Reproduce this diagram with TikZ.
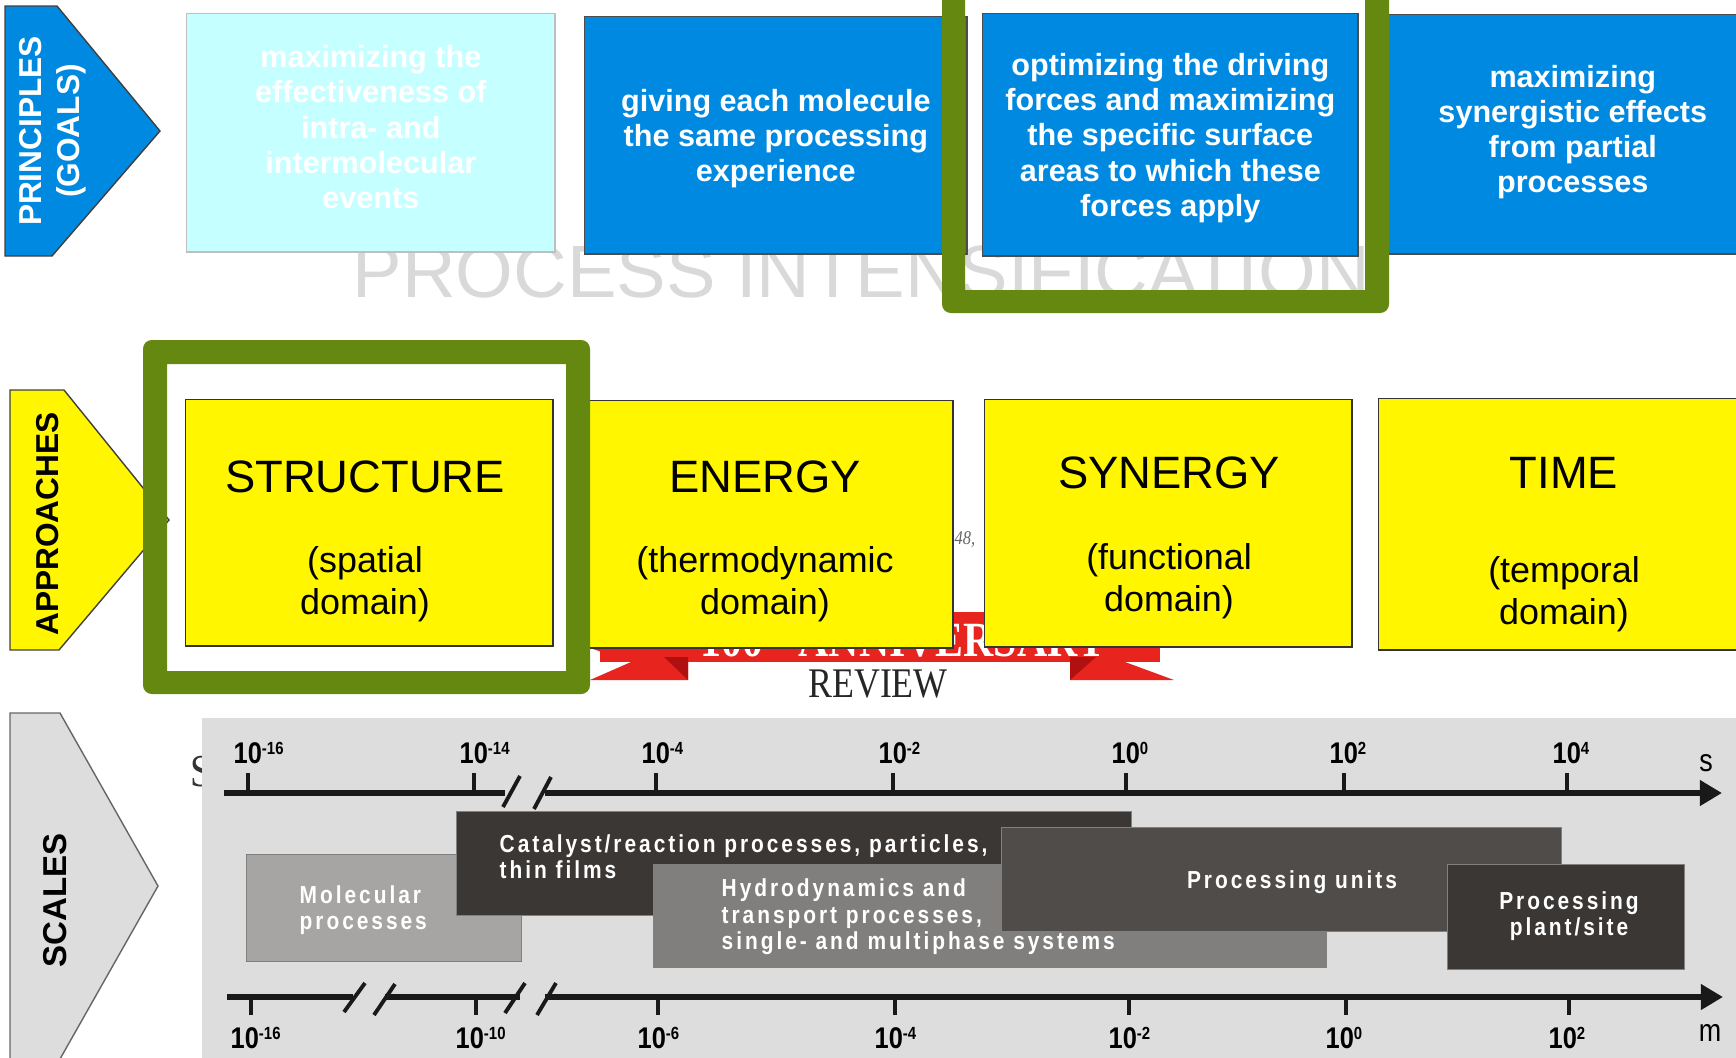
\documentclass[tikz,border=0pt]{standalone}
\usepackage{fontspec}
\setmainfont{Liberation Sans}
\newfontfamily\narrowfont{Liberation Sans}[FakeStretch=0.85,LetterSpace=12]
\newfontfamily\tickfont{Liberation Sans}[FakeStretch=0.85]
\newfontfamily\seriffont{Liberation Serif}[FakeStretch=0.85]
\usepackage{tikz}
\usetikzlibrary{arrows.meta}

\definecolor{goalblue}{RGB}{0,137,224}
\definecolor{goalcyan}{RGB}{197,255,255}
\definecolor{appyellow}{RGB}{255,246,0}
\definecolor{framegreen}{RGB}{101,136,17}
\definecolor{panelgray}{RGB}{221,221,221}
\definecolor{markgray}{RGB}{217,217,217}
\definecolor{ribbonred}{RGB}{232,36,30}
\definecolor{ribbondark}{RGB}{176,16,16}
\definecolor{molgray}{RGB}{166,165,164}
\definecolor{hydgray}{RGB}{128,127,125}
\definecolor{unitgray}{RGB}{79,76,73}
\definecolor{catgray}{RGB}{58,55,53}

% small raised exponent on the axis labels
\newcommand{\expo}[1]{\raisebox{2.3pt}{\fontsize{5}{5}\selectfont #1}}

\begin{document}
\begin{tikzpicture}[x=0.01cm, y=-0.01cm,
    goal/.style={draw=black!70, line width=0.4pt, fill=goalblue,
      anchor=north west, inner sep=0pt},
    goaltext/.style={text=white, align=center, inner sep=0pt,
      font=\bfseries\fontsize{8.7}{10}\selectfont},
    approach/.style={draw=black!80, line width=0.4pt, fill=appyellow,
      anchor=north west, inner sep=0pt},
    apptitle/.style={font=\fontsize{12.9}{14}\selectfont, inner sep=0pt},
    appsub/.style={align=center, inner sep=0pt, font=\fontsize{10.2}{12}\selectfont},
    sidelabel/.style={rotate=90, align=center, inner sep=0pt,
      font=\bfseries\fontsize{9}{10.8}\selectfont},
    sidearrow/.style={draw=black!75, line width=0.4pt},
    scalebox/.style={draw=black!50, line width=0.3pt, anchor=north west, inner sep=0pt},
    scaletext/.style={text=white, align=left, inner sep=0pt,
      font=\narrowfont\bfseries\fontsize{7}{7.5}\selectfont},
    axisline/.style={line width=1.7pt, black!90},
    breakmark/.style={line width=1.1pt, black!90},
    tick/.style={line width=1.1pt, black!90},
    ticklabel/.style={anchor=base west, inner sep=0pt,
      font=\tickfont\bfseries\fontsize{8.5}{9}\selectfont}]

  \useasboundingbox (0,0) rectangle (1736,1057);

  % grey lettering behind the goals
  \node[anchor=base west, inner sep=0pt, text=markgray,
    font=\fontsize{21.1}{22}\selectfont] (mark) at (352,297) {PROCESS INTENSIFICATION};

  % principles (goals)
  \node[goal, fill=goalcyan, draw=black!25, minimum width=3.68cm, minimum height=2.38cm] (goal1) at (186,13) {};
  \node[goal, minimum width=3.82cm, minimum height=2.37cm] (goal2) at (584,16) {};
  \node[goal, minimum width=3.75cm, minimum height=2.42cm] (goal3) at (982,13) {};
  \node[goal, minimum width=3.84cm, minimum height=2.39cm] (goal4) at (1380,14) {};

  \node[goaltext] (goal1-t) at ([yshift=1.6pt]goal1.center)
    {maximizing the\\effectiveness of\\intra- and\\intermolecular\\events};
  \node[goaltext] (goal2-t) at ([yshift=-0.9pt]goal2.center)
    {giving each molecule\\the same processing\\experience};
  \node[goaltext] (goal3-t) at ([yshift=-0.9pt]goal3.center)
    {optimizing the driving\\forces and maximizing\\the specific surface\\areas to which these\\forces apply};
  \node[goaltext] (goal4-t) at ([yshift=0.6pt]goal4.center)
    {maximizing\\synergistic effects\\from partial\\processes};

  % frame round the third goal
  \fill[framegreen, even odd rule, rounded corners=2.5pt]
    (942,-30) rectangle (1389,313) [sharp corners] (965,-30) rectangle (1365,290);

  % side arrow: principles
  \draw[sidearrow, fill=goalblue] (5,6) -- (57,6) -- (160,131) -- (52,256) -- (5,256) -- cycle;
  \node[sidelabel, text=white] (principles) at (53,131) {PRINCIPLES\\(GOALS)};

  % ribbon behind the approaches
  \fill[ribbonred] (600,612) rectangle (1160,662);
  \fill[ribbonred] (590,648) -- (688,648) -- (688,680) -- (590,680) -- (631,662) -- cycle;
  \fill[ribbondark] (664,657) -- (688,657) -- (688,680) -- cycle;
  \fill[ribbonred] (1070,648) -- (1150,648) -- (1125,662) -- (1174,680) -- (1070,680) -- cycle;
  \fill[ribbondark] (1070,657) -- (1096,657) -- (1070,680) -- cycle;
  \node[anchor=base west, inner sep=0pt, text=white,
    font=\seriffont\bfseries\fontsize{14}{15}\selectfont] (anniv) at (700,656)
    {100\hspace{10pt}ANNIVERSARY};
  \node[inner sep=0pt, text=black!85, font=\seriffont\fontsize{12}{13}\selectfont]
    (review) at (878,684) {REVIEW};
  \node[inner sep=0pt, text=black!60, font=\seriffont\itshape\fontsize{5.5}{6}\selectfont]
    (page) at (965,540) {48,};

  % approaches
  \node[approach, minimum width=3.77cm, minimum height=2.47cm] (energy) at (575,400) {};
  \node[approach, minimum width=3.67cm, minimum height=2.47cm] (synergy) at (984,399) {};
  \node[approach, minimum width=3.7cm, minimum height=2.51cm] (time) at (1378,398) {};

  \draw[sidearrow, fill=appyellow] (10,390) -- (64,390) -- (169,520) -- (59,650) -- (10,650) -- cycle;
  \node[sidelabel] (approaches) at (48,524) {APPROACHES};

  % frame round the first approach
  \fill[framegreen, even odd rule, rounded corners=2.5pt]
    (143,340) rectangle (590,694) [sharp corners] (167,364) rectangle (566,671);
  \node[approach, minimum width=3.67cm, minimum height=2.46cm] (structure) at (185,399) {};

  \node[apptitle] (structure-t) at (365,477) {STRUCTURE};
  \node[appsub] (structure-s) at (365,584) {(spatial\\domain)};
  \node[apptitle] (energy-t) at (765,477) {ENERGY};
  \node[appsub] (energy-s) at (765,584) {(thermodynamic\\domain)};
  \node[apptitle] (synergy-t) at (1169,473) {SYNERGY};
  \node[appsub] (synergy-s) at (1169,581) {(functional\\domain)};
  \node[apptitle] (time-t) at (1564,473) {TIME};
  \node[appsub] (time-s) at (1564,594) {(temporal\\domain)};

  % scales
  \node[inner sep=0pt, text=black!80, font=\seriffont\fontsize{13}{14}\selectfont]
    (sfrag) at (201,772) {S};
  \fill[panelgray] (202,718) rectangle (1745,1065);
  \draw[sidearrow, draw=black!60, fill=panelgray]
    (10,713) -- (60,713) -- (158,886) -- (60,1059) -- (10,1059) -- cycle;
  \node[sidelabel, font=\bfseries\fontsize{9.4}{10}\selectfont] (scales) at (55,900) {SCALES};

  \node[scalebox, fill=molgray, minimum width=2.75cm, minimum height=1.07cm] (molecular) at (246,854) {};
  \node[scaletext, anchor=west] (molecular-t) at (299,910) {Molecular\\processes};
  \node[scalebox, fill=catgray, minimum width=6.75cm, minimum height=1.04cm] (catalyst) at (456,811) {};
  \node[scaletext, anchor=west] (catalyst-t) at (499,857) {Catalyst/reaction processes, particles,\\thin films};
  \node[scalebox, fill=hydgray, minimum width=6.73cm, minimum height=1.03cm] (hydro) at (653,864) {};
  \node[scaletext, anchor=west] (hydro-t) at (721,917) {Hydrodynamics and\\transport processes,\\single- and multiphase systems};
  \node[scalebox, fill=unitgray, minimum width=5.6cm, minimum height=1.04cm] (units) at (1001,827) {};
  \node[scaletext] (units-t) at (1292,882) {Processing units};
  \node[scalebox, fill=catgray, minimum width=2.37cm, minimum height=1.05cm] (plant) at (1447,864) {};
  \node[scaletext, align=center] (plant-t) at (1569,916) {Processing\\plant/site};

  % time axis
  \coordinate (t-start) at (224,793);
  \coordinate (t-end) at (1722,793);
  \draw[axisline] (t-start) -- (505,793);
  \draw[axisline, -{Triangle[length=6.3pt, width=7pt]}] (545,793) -- (t-end);
  \draw[breakmark] (503,807) -- (520,776);
  \draw[breakmark] (534,809) -- (551,777);
  \foreach \x/\e in {248/-16, 474/-14, 656/-4, 893/-2, 1126/0, 1344/2, 1567/4} {
    \draw[tick] (\x,773) -- (\x,793);
    \node[ticklabel] at (\x-15,763) {10\expo{\e}};
  }
  \node[inner sep=0pt, font=\tickfont\fontsize{9}{10}\selectfont] (t-unit) at (1706,763) {s};

  % length axis
  \coordinate (m-start) at (227,997);
  \coordinate (m-end) at (1723,997);
  \draw[axisline] (m-start) -- (353,997);
  \draw[axisline] (385,997) -- (520,997);
  \draw[axisline, -{Triangle[length=6.3pt, width=7pt]}] (545,997) -- (m-end);
  \draw[breakmark] (344,1012) -- (365,983);
  \draw[breakmark] (374,1015) -- (395,984);
  \draw[breakmark] (505,1013) -- (525,983);
  \draw[breakmark] (537,1015) -- (556,983);
  \foreach \x/\e in {251/-16, 476/-10, 658/-6, 895/-4, 1129/-2, 1346/0, 1569/2} {
    \draw[tick] (\x,997) -- (\x,1015);
    \node[ticklabel] at (\x-21,1048) {10\expo{\e}};
  }
  \node[inner sep=0pt, font=\tickfont\fontsize{9}{10}\selectfont] (m-unit) at (1710,1033) {m};

\end{tikzpicture}
\end{document}
